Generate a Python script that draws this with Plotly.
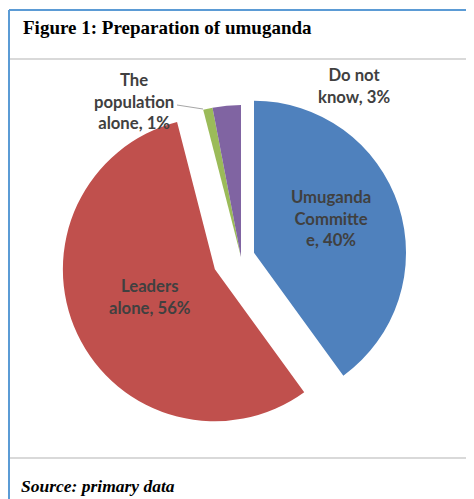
import plotly.graph_objects as go

# data
labels = ["Umuganda Committee", "Leaders alone", "The population alone", "Do not know"]
shares = [40, 56, 1, 3]
colors = ["#4F81BD", "#C0504D", "#9BBB59", "#8064A2"]
pulls = [0.09, 0.19, 0, 0]

# the page body has an 8px margin, so the figure is drawn 8px smaller
OFF = 8
W, H = 474 - OFF, 499 - OFF


def px(x):
    return (x - OFF) / W


def py(y):
    return 1 - (y - OFF) / H


R = 152
CX, CY = 241, 257
half = R * (1 + max(pulls))

fig = go.Figure(go.Pie(
    labels=labels, values=shares, sort=False, direction="clockwise",
    rotation=0, pull=pulls, marker=dict(colors=colors, line=dict(width=0)),
    textinfo="none", hoverinfo="label+percent", showlegend=False,
    domain=dict(x=[px(CX - half), px(CX + half)], y=[py(CY + half), py(CY - half)]),
))

lab_font = dict(family="Lato", size=16.7, color="#404040")
ann = [
    ("Umuganda<br>Committe<br>e, 40%", 331, 218),
    ("Leaders<br>alone, 56%", 150, 297),
    ("The<br>population<br>alone, 1%", 134, 101),
    ("Do not<br>know, 3%", 354, 86),
]
annotations = [dict(text="<b>" + t.replace("<br>", "</b><br><b>") + "</b>",
                    x=px(x), y=py(y), xref="paper", yref="paper",
                    xanchor="center", yanchor="middle",
                    showarrow=False, font=lab_font, align="center")
               for t, x, y in ann]

annotations.append(dict(text="<b>Figure 1: Preparation of umuganda</b>",
                        x=px(21), y=py(28), xref="paper", yref="paper",
                        xanchor="left", yanchor="middle", showarrow=False,
                        font=dict(family="Liberation Serif", size=19, color="black")))
annotations.append(dict(text="<b><i>Source: primary data</i></b>",
                        x=px(19), y=py(486), xref="paper", yref="paper",
                        xanchor="left", yanchor="middle", showarrow=False,
                        font=dict(family="Liberation Serif", size=17.5, color="black")))

shapes = [
    dict(type="line", xref="paper", yref="paper", x0=px(9), x1=1, y0=py(10), y1=py(10),
         line=dict(color="#5B9BD5", width=2)),
    dict(type="line", xref="paper", yref="paper", x0=px(9), x1=px(9), y0=py(10), y1=0,
         line=dict(color="#5B9BD5", width=2)),
    dict(type="line", xref="paper", yref="paper", x0=px(10), x1=1, y0=py(59), y1=py(59),
         line=dict(color="#D9D9D9", width=2)),
    dict(type="line", xref="paper", yref="paper", x0=px(10), x1=1, y0=py(458), y1=py(458),
         line=dict(color="#D9D9D9", width=2)),
    # leader line for the small slice label
    dict(type="line", xref="paper", yref="paper", x0=px(177), x1=px(203), y0=py(105), y1=py(109),
         line=dict(color="#A6A6A6", width=1)),
]

fig.update_layout(width=W, height=H, margin=dict(l=0, r=0, t=0, b=0),
                  paper_bgcolor="white", plot_bgcolor="white",
                  annotations=annotations, shapes=shapes)

fig.write_html("out.html")
